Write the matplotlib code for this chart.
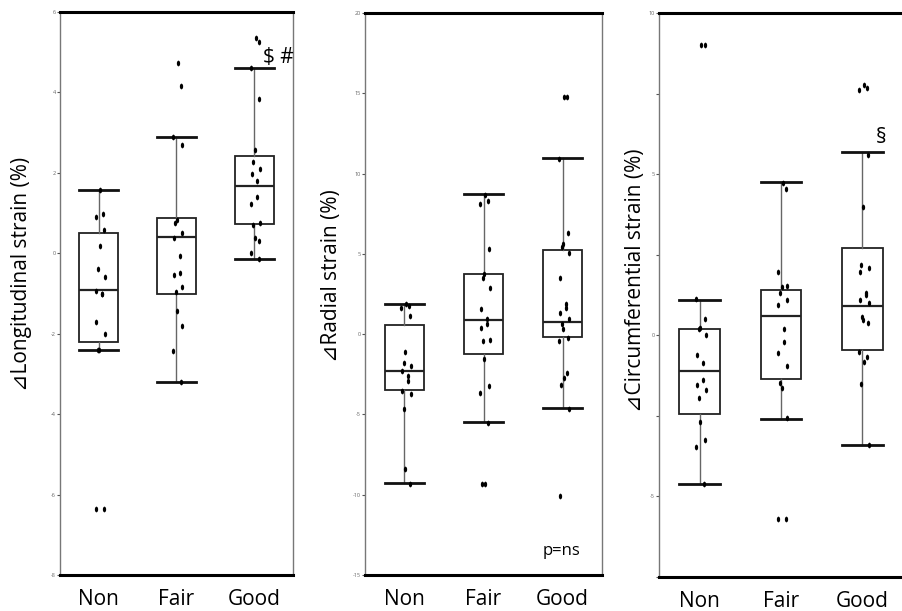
import numpy as np
import matplotlib
matplotlib.use("Agg")
import matplotlib.pyplot as plt
from matplotlib.markers import MarkerStyle
from matplotlib.transforms import Affine2D

plt.rcParams["font.family"] = ["Open Sans", "DejaVu Sans"]

GROUPS = ["Non", "Fair", "Good"]

# longitudinal strain change (%)
LONG_NON = [1.57, 0.99, 0.9, 0.57, 0.17, -0.4, -0.6, -0.94, -1.02, -1.02, -1.72, -2.0, -2.4, -2.4, -6.35, -6.35]
LONG_FAIR = [4.73, 4.15, 2.89, 2.7, 0.82, 0.75, 0.5, 0.37, -0.07, -0.5, -0.55, -0.85, -0.95, -1.44, -1.82, -2.44, -3.2]
LONG_GOOD = [5.35, 5.25, 4.6, 3.83, 2.56, 2.26, 2.1, 1.98, 1.8, 1.4, 1.22, 0.75, 0.7, 0.37, 0.3, 0.0, -0.15]
LONG_LOW = [-2.4, -3.2, -0.15]
LONG_Q1 = [-2.2, -1.02, 0.72]
LONG_MED = [-0.92, 0.4, 1.67]
LONG_Q3 = [0.5, 0.87, 2.41]
LONG_HIGH = [1.57, 2.89, 4.6]
LONG_TICKS = [-8, -6, -4, -2, 0, 2, 4, 6]

# radial strain change (%)
RAD_NON = [1.87, 1.74, 1.62, 1.12, -1.12, -1.8, -2.0, -2.3, -2.6, -2.9, -3.55, -3.7, -4.67, -8.4, -9.33]
RAD_FAIR = [8.65, 8.3, 8.1, 5.3, 3.75, 3.5, 2.9, 1.55, 0.93, 0.62, 0.37, -0.37, -0.45, -1.55, -3.24, -3.66, -5.54, -9.33, -9.33]
RAD_GOOD = [14.8, 14.8, 10.9, 6.3, 5.6, 5.4, 5.05, 3.5, 1.85, 1.62, 1.3, 0.93, 0.62, 0.31, -0.25, -0.45, -2.4, -2.7, -3.17, -4.67, -10.1]
RAD_LOW = [-9.3, -5.5, -4.6]
RAD_Q1 = [-3.5, -1.25, -0.2]
RAD_MED = [-2.3, 0.87, 0.75]
RAD_Q3 = [0.6, 3.75, 5.25]
RAD_HIGH = [1.87, 8.7, 11.0]
RAD_TICKS = [-15, -10, -5, 0, 5, 10, 15, 20]

# circumferential strain change (%)
CIRC_NON = [9.0, 9.0, 1.12, 0.5, 0.22, 0.2, 0.0, -0.62, -0.87, -1.4, -1.55, -1.71, -1.96, -2.7, -3.26, -3.48, -4.6]
CIRC_FAIR = [4.72, 4.53, 1.96, 1.52, 1.49, 1.3, 1.1, 0.93, 0.19, -0.2, -0.55, -0.96, -1.49, -1.65, -2.58, -5.7, -5.7]
CIRC_GOOD = [7.76, 7.67, 7.6, 5.6, 3.98, 2.17, 2.1, 1.96, 1.3, 1.24, 1.09, 0.99, 0.56, 0.47, 0.37, -0.53, -0.68, -0.84, -1.52, -3.4]
CIRC_LOW = [-4.6, -2.6, -3.4]
CIRC_Q1 = [-2.45, -1.35, -0.47]
CIRC_MED = [-1.1, 0.6, 0.9]
CIRC_Q3 = [0.2, 1.4, 2.7]
CIRC_HIGH = [1.1, 4.75, 5.7]
CIRC_TICKS = [-5, 0, 5, 10]
CIRC_MINOR = [-7.5, -2.5, 2.5, 7.5]

panels = [
    {
        "rect": [0.0664, 0.0589, 0.2580, 0.9214],
        "points": [LONG_NON, LONG_FAIR, LONG_GOOD],
        "stats": [LONG_LOW, LONG_Q1, LONG_MED, LONG_Q3, LONG_HIGH],
        "ylim": (-8, 6), "major": LONG_TICKS, "minor": None,
        "label": "⊿Longitudinal strain (%)", "label_pos": (-0.163, 0.535),
    },
    {
        "rect": [0.4042, 0.0589, 0.2625, 0.9198],
        "points": [RAD_NON, RAD_FAIR, RAD_GOOD],
        "stats": [RAD_LOW, RAD_Q1, RAD_MED, RAD_Q3, RAD_HIGH],
        "ylim": (-15, 20), "major": RAD_TICKS, "minor": None,
        "label": "⊿Radial strain (%)", "label_pos": (-0.143, 0.532),
    },
    {
        "rect": [0.7298, 0.0556, 0.2702, 0.9231],
        "points": [CIRC_NON, CIRC_FAIR, CIRC_GOOD],
        "stats": [CIRC_LOW, CIRC_Q1, CIRC_MED, CIRC_Q3, CIRC_HIGH],
        "ylim": (-7.5, 10), "major": CIRC_TICKS, "minor": CIRC_MINOR,
        "label": "⊿Circumferential strain (%)", "label_pos": (-0.098, 0.527),
    },
]

dot = MarkerStyle("o", transform=Affine2D().scale(0.75, 1.3))

fig = plt.figure(figsize=(9.03, 6.11), dpi=100)
axes = []
for p in panels:
    ax = fig.add_axes(p["rect"])
    axes.append(ax)
    low, q1, med, q3, high = p["stats"]
    stats = []
    for i in range(3):
        stats.append({"whislo": low[i], "q1": q1[i], "med": med[i],
                      "q3": q3[i], "whishi": high[i], "fliers": []})
    ax.bxp(stats, positions=[1, 2, 3], widths=0.5, capwidths=0.5,
           showfliers=False, patch_artist=True,
           boxprops=dict(facecolor="white", edgecolor="#222222", linewidth=1.3),
           medianprops=dict(color="#222222", linewidth=1.6),
           whiskerprops=dict(color="#666666", linewidth=1.0),
           capprops=dict(color="#111111", linewidth=2.0))
    for i, vals in enumerate(p["points"]):
        n = len(vals)
        jitter = 0.06 * np.sin(np.arange(n) * 2.4) + 0.02
        ax.scatter(np.full(n, i + 1) + jitter, vals, marker=dot, s=10,
                   color="black", linewidths=0, zorder=5)

    ax.set_xlim(0.5, 3.5)
    ax.set_ylim(*p["ylim"])
    ax.set_yticks(p["major"])
    if p["minor"]:
        ax.set_yticks(p["minor"], minor=True)
    ax.yaxis.set_major_formatter(matplotlib.ticker.FormatStrFormatter("%g"))
    ax.tick_params(axis="y", which="both", labelsize=4, labelcolor="#666666",
                   length=2, width=0.8, color="#555555", pad=1)
    ax.set_xticks([1, 2, 3])
    ax.set_xticklabels(GROUPS)
    ax.tick_params(axis="x", length=0, labelsize=15, pad=10)

    ax.spines["top"].set_linewidth(2.2)
    ax.spines["bottom"].set_linewidth(2.2)
    ax.spines["left"].set_linewidth(1.0)
    ax.spines["left"].set_color("#777777")
    ax.spines["right"].set_linewidth(1.0)
    ax.spines["right"].set_color("#777777")

    ax.text(p["label_pos"][0], p["label_pos"][1], p["label"], transform=ax.transAxes,
            rotation=90, ha="center", va="center", fontsize=15)

axes[2].spines["right"].set_visible(False)

axes[0].text(3.31, 4.88, r"\$ #", fontsize=15, ha="center", va="center")
axes[1].text(2.99, -13.5, "p=ns", fontsize=12, ha="center", va="center")
axes[2].text(3.23, 6.15, "§", fontsize=15, ha="center", va="center")

fig.savefig("out.png", dpi=100)
